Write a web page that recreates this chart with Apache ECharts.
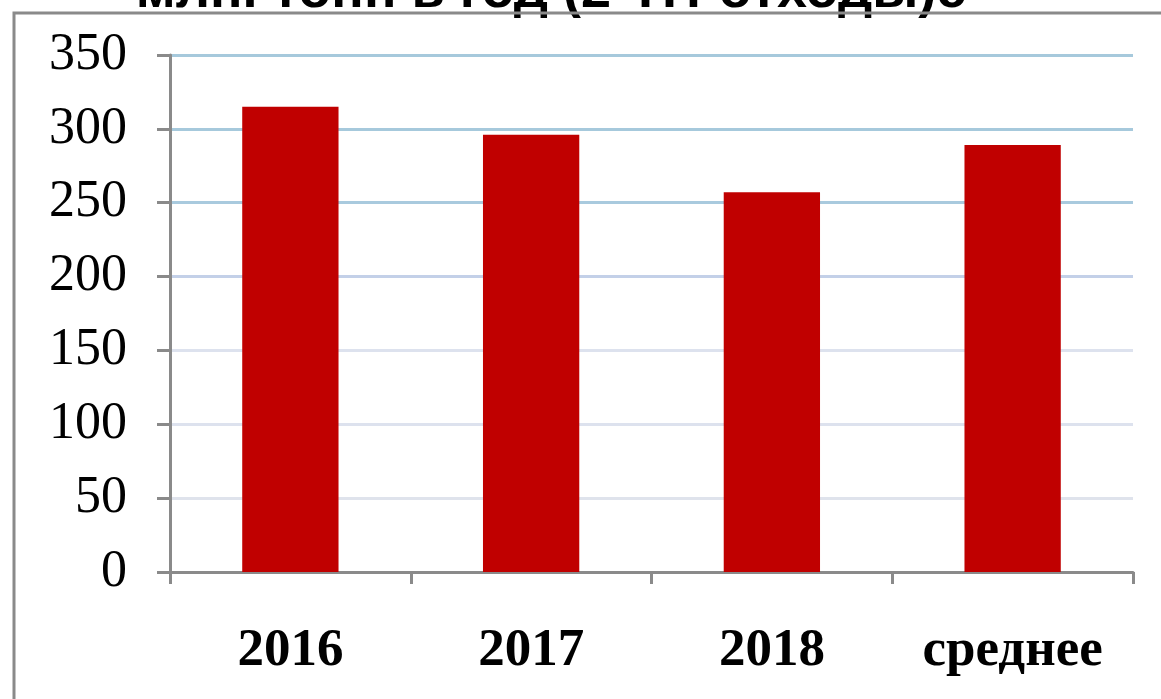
<!DOCTYPE html>
<html>
<head>
<meta charset="utf-8">
<script src="https://cdn.jsdelivr.net/npm/echarts@6/dist/echarts.min.js"></script>
<style>
  html, body { margin: 0; padding: 0; background: #fff; }
  #main { width: 1161px; height: 699px; }
</style>
</head>
<body>
<div id="main"></div>
<script>
// values
const categories = ["2016", "2017", "2018", "среднее"];
const waste = [315, 296, 257, 289];
const yTicks = [0, 50, 100, 150, 200, 250, 300, 350];
const titleText = "млн. тонн в год (2-ТП-отходы)с";

// grid line colours, bottom to top
const gridColors = ["#dfe3ec", "#dfe3ec", "#dde2ee", "#dde2ee", "#c3d0e8", "#a9cade", "#a6c9dc", "#a6c9dc"];

const myChart = echarts.init(document.getElementById("main"));

const option = {
  animation: false,
  grid: {
    left: 170,
    right: 28,
    top: 55,
    bottom: 127,
  },
  graphic: [
    {
      type: "text",
      x: 551,
      y: 19,
      style: {
        text: titleText,
        font: "bold 54px 'Liberation Sans', Arial, sans-serif",
        fill: "#000",
        align: "center",
        verticalAlign: "bottom",
      },
      silent: true,
    },
    {
      type: "rect",
      shape: { x: 14, y: 13, width: 1300, height: 900 },
      style: { fill: "none", stroke: "#8a8a8a", lineWidth: 3 },
      silent: true,
    },
  ],
  xAxis: {
    type: "category",
    data: categories,
    axisLine: { lineStyle: { color: "#8a8a8a", width: 3 } },
    axisTick: { show: true, length: 12, lineStyle: { color: "#8a8a8a", width: 3 } },
    axisLabel: {
      margin: 53,
      color: "#000",
      fontFamily: "'Liberation Serif', 'Times New Roman', serif",
      fontWeight: "bold",
      fontSize: 53,
    },
  },
  yAxis: {
    type: "value",
    min: yTicks[0],
    max: yTicks[yTicks.length - 1],
    interval: 50,
    axisLine: { show: true, lineStyle: { color: "#8a8a8a", width: 3 } },
    axisTick: { show: true, length: 13, lineStyle: { color: "#8a8a8a", width: 3 } },
    axisLabel: {
      margin: 43,
      color: "#000",
      fontFamily: "'Liberation Serif', 'Times New Roman', serif",
      fontSize: 52,
    },
    splitLine: { lineStyle: { color: gridColors, width: 3 } },
  },
  series: [
    {
      type: "bar",
      data: waste,
      barWidth: "40%",
      itemStyle: { color: "#c00000" },
    },
  ],
};

option && myChart.setOption(option);
</script>
</body>
</html>
